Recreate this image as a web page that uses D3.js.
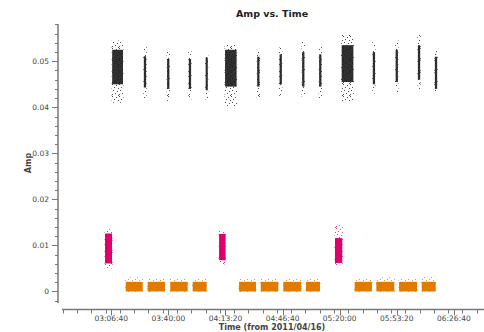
<!DOCTYPE html>
<html>
<head>
<meta charset="utf-8">
<script src="https://cdn.jsdelivr.net/npm/d3@7"></script>
<style>
  html, body { margin: 0; padding: 0; background: #fff; }
  svg { display: block; font-family: "DejaVu Sans", sans-serif; }
</style>
</head>
<body>
<svg id="chart" width="484" height="332"></svg>
<script>
// Scan summaries: [start, end, min, lowerDense, upperDense, max] amplitude per scan
const targetScans = [
  ["03:07:10", "03:13:30", 0.0410, 0.0450, 0.0525, 0.0545],
  ["03:25:40", "03:27:00", 0.0418, 0.0443, 0.0511, 0.0532],
  ["03:39:15", "03:40:35", 0.0414, 0.0440, 0.0505, 0.0527],
  ["03:51:55", "03:53:15", 0.0417, 0.0440, 0.0505, 0.0526],
  ["04:01:45", "04:03:00", 0.0417, 0.0437, 0.0508, 0.0519],
  ["04:13:05", "04:19:50", 0.0403, 0.0445, 0.0525, 0.0537],
  ["04:31:50", "04:33:10", 0.0421, 0.0445, 0.0510, 0.0527],
  ["04:44:55", "04:46:15", 0.0425, 0.0450, 0.0515, 0.0530],
  ["04:58:05", "04:59:25", 0.0421, 0.0445, 0.0520, 0.0542],
  ["05:08:00", "05:09:20", 0.0416, 0.0445, 0.0515, 0.0533],
  ["05:21:10", "05:28:00", 0.0412, 0.0455, 0.0535, 0.0557],
  ["05:39:20", "05:40:40", 0.0430, 0.0450, 0.0520, 0.0543],
  ["05:52:40", "05:54:00", 0.0432, 0.0455, 0.0525, 0.0546],
  ["06:05:40", "06:07:00", 0.0438, 0.0460, 0.0535, 0.0557],
  ["06:15:35", "06:16:55", 0.0434, 0.0440, 0.0510, 0.0525]
];
const calibratorScans = [
  ["03:03:00", "03:07:05", 0.0050, 0.0061, 0.0126, 0.0135],
  ["04:09:35", "04:13:25", 0.0059, 0.0068, 0.0125, 0.0133],
  ["05:17:15", "05:21:30", 0.0057, 0.0062, 0.0116, 0.0144]
];
const offScans = [
  ["03:15:05", "03:25:00", -0.0001, 0.0000, 0.0021, 0.0031],
  ["03:27:55", "03:38:00", -0.0001, 0.0000, 0.0021, 0.0028],
  ["03:41:05", "03:51:15", -0.0001, 0.0000, 0.0021, 0.0029],
  ["03:54:10", "04:02:20", -0.0001, 0.0000, 0.0021, 0.0028],
  ["04:21:15", "04:31:10", -0.0001, 0.0000, 0.0021, 0.0029],
  ["04:33:55", "04:44:10", -0.0001, 0.0000, 0.0021, 0.0028],
  ["04:47:05", "04:57:35", -0.0001, 0.0000, 0.0021, 0.0029],
  ["05:00:20", "05:08:30", -0.0001, 0.0000, 0.0021, 0.0029],
  ["05:28:45", "05:38:50", -0.0001, 0.0000, 0.0021, 0.0028],
  ["05:41:25", "05:51:55", -0.0001, 0.0000, 0.0021, 0.0031],
  ["05:54:40", "06:05:10", -0.0001, 0.0000, 0.0021, 0.0029],
  ["06:07:55", "06:16:05", -0.0001, 0.0000, 0.0021, 0.0032]
];

const xTickLabels = ["03:06:40", "03:40:00", "04:13:20", "04:46:40", "05:20:00", "05:53:20", "06:26:40"];
const yTickValues = [0, 0.01, 0.02, 0.03, 0.04, 0.05];

const toSec = s => { const p = s.split(":").map(Number); return p[0] * 3600 + p[1] * 60 + p[2]; };

const svg = d3.select("#chart");

// Scales: time in seconds of day, amplitude
const x = d3.scaleLinear().domain([9473, 24466]).range([62, 490]);
const y = d3.scaleLinear().domain([-0.0025, 0.0581]).range([303, 24]);

// Irregular speckle patterns for the sparse fringes of each scan
const defs = svg.append("defs");
const speckleDots = [[0, 0], [4, 1], [2, 3], [6, 4], [1, 6], [5, 7], [3, 9], [0, 10], [6, 11]];
function speckle(id, color) {
  const p = defs.append("pattern").attr("id", id)
    .attr("patternUnits", "userSpaceOnUse").attr("width", 7).attr("height", 12);
  speckleDots.forEach(([a, b]) =>
    p.append("rect").attr("x", a).attr("y", b).attr("width", 1).attr("height", 1).attr("fill", color));
}
speckle("spk-target", "#222");
speckle("spk-cal", "#e8006f");
speckle("spk-off", "#e07b00");

function drawScans(rows, cls, color, spk, coreOpacity) {
  const g = svg.append("g").attr("class", cls);
  const sel = g.selectAll("g").data(rows).join("g");
  const w = d => Math.max(1.8, x(toSec(d[1])) - x(toSec(d[0])));
  sel.append("rect")
    .attr("x", d => x(toSec(d[0])) - 0.5)
    .attr("width", d => w(d) + 1)
    .attr("y", d => y(d[5]))
    .attr("height", d => y(d[2]) - y(d[5]))
    .attr("fill", `url(#${spk})`).attr("opacity", 0.8);
  sel.append("rect")
    .attr("x", d => x(toSec(d[0])))
    .attr("width", w)
    .attr("y", d => y(d[4]))
    .attr("height", d => y(d[3]) - y(d[4]))
    .attr("fill", color).attr("opacity", coreOpacity);
}
drawScans(offScans, "off", "#e07b00", "spk-off", 1);
drawScans(calibratorScans, "cal", "#e0006b", "spk-cal", 1);
drawScans(targetScans, "target", "#1a1a1a", "spk-target", 0.9);

// Axes
const axisColor = "#777";
const yMinor = d3.range(-0.002, 0.0585, 0.002);
const yAxis = svg.append("g").attr("transform", "translate(58,0)");
yAxis.append("line").attr("x1", 0).attr("x2", 0).attr("y1", 24).attr("y2", 303)
  .attr("stroke", axisColor).attr("stroke-width", 1.5);
yAxis.selectAll("line.minor").data(yMinor).join("line").attr("class", "minor")
  .attr("x1", -3).attr("x2", 0).attr("y1", d => Math.round(y(d)) + 0.5).attr("y2", d => Math.round(y(d)) + 0.5)
  .attr("stroke", axisColor);
yAxis.selectAll("line.major").data(yTickValues).join("line").attr("class", "major")
  .attr("x1", -6).attr("x2", 0).attr("y1", d => Math.round(y(d)) + 0.5).attr("y2", d => Math.round(y(d)) + 0.5)
  .attr("stroke", axisColor);
yAxis.selectAll("text").data(yTickValues).join("text")
  .attr("x", -9).attr("y", d => y(d)).attr("dy", "0.35em")
  .attr("text-anchor", "end").attr("font-size", 7.5).attr("fill", "#444")
  .text(d => d === 0 ? "0" : d3.format(".2f")(d));

const xMajor = xTickLabels.map(toSec);
const xMinor = d3.range(9500, 24500, 500).filter(t => x(t) <= 484);
const xAxis = svg.append("g").attr("transform", "translate(0,309.5)");
xAxis.append("line").attr("x1", 62).attr("x2", 484).attr("y1", 0).attr("y2", 0)
  .attr("stroke", axisColor).attr("stroke-width", 1.5);
xAxis.selectAll("line.minor").data(xMinor).join("line").attr("class", "minor")
  .attr("x1", d => Math.round(x(d)) + 0.5).attr("x2", d => Math.round(x(d)) + 0.5)
  .attr("y1", 0).attr("y2", 4).attr("stroke", axisColor);
xAxis.selectAll("line.major").data(xMajor).join("line").attr("class", "major")
  .attr("x1", d => Math.round(x(d)) + 0.5).attr("x2", d => Math.round(x(d)) + 0.5)
  .attr("y1", 0).attr("y2", 6).attr("stroke", axisColor);
xAxis.selectAll("text").data(xTickLabels).join("text")
  .attr("x", d => x(toSec(d))).attr("y", 11.5)
  .attr("text-anchor", "middle").attr("font-size", 7.5).attr("fill", "#444")
  .text(d => d);

// Titles
svg.append("text").attr("x", 272).attr("y", 17).attr("text-anchor", "middle")
  .attr("font-size", 9.5).attr("font-weight", "bold").attr("fill", "#222").text("Amp vs. Time");
svg.append("text").attr("x", 272).attr("y", 330.2).attr("text-anchor", "middle")
  .attr("font-size", 8).attr("font-weight", "bold").attr("fill", "#444").text("Time (from 2011/04/16)");
svg.append("text").attr("transform", "translate(31,163) rotate(-90)").attr("text-anchor", "middle")
  .attr("font-size", 8).attr("font-weight", "bold").attr("fill", "#444").text("Amp");
</script>
</body>
</html>
